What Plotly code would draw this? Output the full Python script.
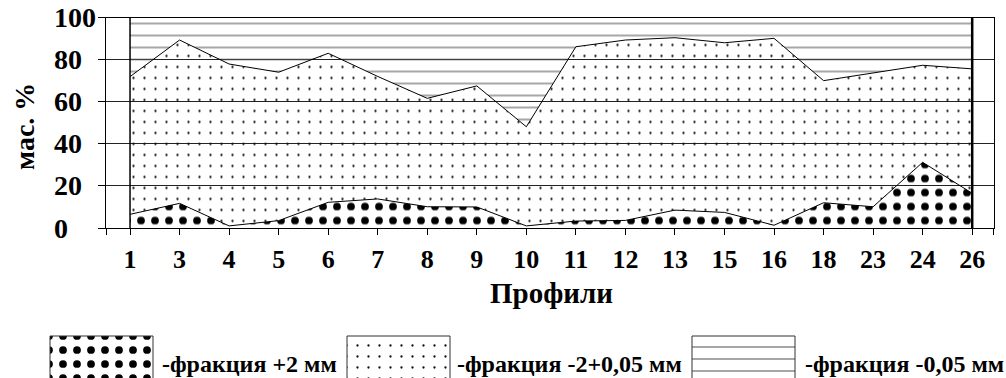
import plotly.graph_objects as go

W, H = 1006, 378
SERIF = "Times New Roman, Liberation Serif, DejaVu Serif, serif"

# Profile numbers along the section
profiles = ["1", "3", "4", "5", "6", "7", "8", "9", "10", "11", "12", "13",
            "15", "16", "18", "23", "24", "26"]

# Mass share of each grain-size fraction, %
coarse = [6.5, 11.7, 1.0, 3.5, 12.2, 13.8, 10.1, 10.0, 1.0, 3.3, 3.6, 8.5,
          7.4, 1.3, 12.0, 10.1, 31.2, 16.5]          # +2 mm
sand = [65.4, 77.6, 76.9, 70.5, 70.8, 58.2, 51.5, 57.5, 47.1, 82.8, 85.7, 81.9,
        80.6, 88.8, 58.0, 63.7, 46.1, 59.1]          # -2+0,05 mm
fine = [28.1, 10.7, 22.1, 26.0, 17.0, 28.0, 38.4, 32.5, 51.9, 13.9, 10.7, 9.6,
        12.0, 9.9, 30.0, 26.2, 22.7, 24.4]           # -0,05 mm

y_ticks = [0, 20, 40, 60, 80, 100]
legend_labels = ["-фракция +2 мм", "-фракция -2+0,05 мм", "-фракция -0,05 мм"]

CLEAR = "rgba(255,255,255,0)"
patterns = [
    dict(shape=".", size=14, solidity=0.24, fgcolor="black", fgopacity=1, bgcolor=CLEAR),
    dict(shape=".", size=11, solidity=0.035, fgcolor="#111", fgopacity=1, bgcolor=CLEAR),
    dict(shape="-", size=12, solidity=0.09, fgcolor="#5a5a5a", fgopacity=1, bgcolor=CLEAR),
]
line_widths = [1, 1, 0]

x = list(range(len(profiles)))

fig = go.Figure()
for vals, pat, lw in zip([coarse, sand, fine], patterns, line_widths):
    fig.add_trace(go.Scatter(
        x=x, y=vals, mode="lines", stackgroup="frac",
        line=dict(color="black", width=lw),
        fillcolor=CLEAR, fillpattern=pat, hoverinfo="skip",
    ))

# Edges of the filled band at the first and last profile
for xi, w in [(x[0], 1.5), (x[-1], 2.5)]:
    fig.add_shape(type="line", xref="x", yref="y", x0=xi, x1=xi, y0=0, y1=100,
                  line=dict(color="black", width=w))

# Pattern swatches of the legend
sw_left = [50, 347, 692]
sw_w = 103
sw_top = 336
for left, pat in zip(sw_left, patterns):
    fig.add_trace(go.Scatter(
        x=[left, left + sw_w, left + sw_w, left, left],
        y=[sw_top, sw_top, 392, 392, sw_top],
        xaxis="x2", yaxis="y2", mode="lines", fill="toself",
        line=dict(color="#333", width=1),
        fillcolor="white", fillpattern=dict(pat, bgcolor="white"),
        hoverinfo="skip",
    ))

text_left = [160, 455, 803]
for left, label in zip(text_left, legend_labels):
    fig.add_annotation(text=label, xref="paper", yref="paper",
                       x=left / W, y=(H - 364) / H, xanchor="left", yanchor="middle",
                       showarrow=False,
                       font=dict(family=SERIF, size=24, color="black", weight="bold"))

# Left-aligned value labels of the y axis
for v in y_ticks:
    fig.add_annotation(text=str(v), xref="paper", yref="y", x=52 / W, y=v,
                       xanchor="left", yanchor="middle", showarrow=False,
                       font=dict(family=SERIF, size=28, color="black", weight="bold"))

fig.add_annotation(text="мас. %", xref="paper", yref="paper", x=25 / W, y=(H - 127) / H,
                   textangle=-90, xanchor="center", yanchor="middle", showarrow=False,
                   font=dict(family=SERIF, size=28, color="black", weight="bold"))
fig.add_annotation(text="Профили", xref="paper", yref="paper", x=551 / W, y=(H - 293) / H,
                   xanchor="center", yanchor="middle", showarrow=False,
                   font=dict(family=SERIF, size=29, color="black", weight="bold"))

x_lo, x_hi = -0.485, 17.44
fig.update_layout(
    width=W, height=H, margin=dict(l=0, r=0, t=0, b=0),
    paper_bgcolor="white", plot_bgcolor="white", showlegend=False,
    font=dict(family=SERIF),
    xaxis=dict(domain=[106 / W, 994 / W], range=[x_lo, x_hi],
               tickvals=[x_lo + 0.01] + x + [x_hi - 0.01],
               ticktext=[""] + profiles + [""],
               ticks="outside", ticklen=6, tickcolor="black", tickwidth=1,
               ticklabelstandoff=2,
               showline=True, linecolor="black", linewidth=1, mirror=True,
               showgrid=False, zeroline=False,
               tickfont=dict(family=SERIF, size=26, color="black", weight="bold")),
    yaxis=dict(domain=[(H - 228) / H, (H - 17.5) / H], range=[0, 100],
               tickvals=y_ticks, showticklabels=False,
               ticks="outside", ticklen=7, tickcolor="black",
               showline=True, linecolor="black", linewidth=1, mirror=True,
               showgrid=True, gridcolor="#222", gridwidth=1, zeroline=False),
    xaxis2=dict(domain=[0, 1], range=[0, W], visible=False, anchor="y2", fixedrange=True),
    yaxis2=dict(domain=[0, 49 / H], range=[H, H - 49], visible=False, anchor="x2",
                fixedrange=True),
)

fig.write_html("out.html")
